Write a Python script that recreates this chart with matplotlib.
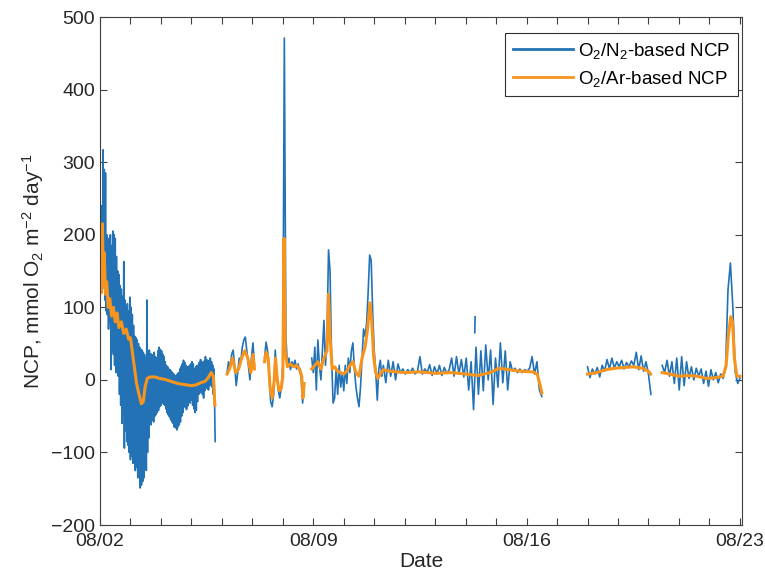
import numpy as np
import matplotlib
matplotlib.use("Agg")
import matplotlib.pyplot as plt
import matplotlib.dates as mdates
from datetime import datetime

nan = float("nan")

# ---------------- data (days after 08/02 00:00) ----------------
base_date = datetime(2019, 8, 2)

# O2/N2-based NCP : segments (start day, step in days, values)
n2_seg_a_start, n2_seg_a_step = 0.02, 0.02
n2_seg_a = [170, 120, 240, 125, 317, 130, 290, 110, 285, 95,
            200, 90, 195, 70, 190, 80, 200, 14, 185, 40,
            205, 35, 200, 20, 195, 10, 170, 15, 150, 5,
            145, -20, 130, -35, 125, -60, 115, -50, 163, -94,
            110, -70, 100, -85, 105, -90, 95, -100, 114, -110,
            100, -105, 90, -115, 75, -110, 60, -125, 58, -120,
            55, -135, 50, -130, 45, -149, 42, -145, 41, -140,
            38, -135, 35, -120, 30, -125, 110, -100, 40, -80,
            41, -60, 36, -62, 35, -55, 30, -58, 38, -50,
            32, -48, 30, -45, 40, -42, 45, -37, 42, -35,
            40, -30, 35, -33, 32, -35, 25, -40, 20, -45,
            18, -48, 15, -51, 14, -55, 12, -58, 10, -60,
            8, -65, 6, -66, 5, -69, 8, -65, 10, -62,
            15, -58, 18, -50, 22, -45, 27, -35, 24, -38,
            20, -41, 18, -36, 18, -30, 20, -32, 22, -28,
            25, -35, 22, -40, 15, -45, 18, -42, 20, -30,
            18, -20, 24, -18, 28, -15, 25, -20, 20, -25,
            26, -15, 32, -10, 28, -12, 25, -14, 27, -8,
            30, -5, 25, -10, 20, -20, 15, -30, -85]

n2_seg_b_start, n2_seg_b_step = 4.17, 0.05
n2_seg_b = [10, 25, 15, 35, 41, 20, -8, 10, 30, 25,
            45, 55, 59, 40, 20, 0, 30, 51, 20]

n2_seg_c_start, n2_seg_c_step = 5.40, 0.05
n2_seg_c = [30, 52, 40, 10, -30, -37, -20, 41, 10, -14,
            -25, -10, 20, 471, 60, 20, 30, 14, 25, 18,
            27, 15, 22, 12, 5, -32, -5]

n2_seg_d1_start, n2_seg_d1_step = 6.95, 0.05
n2_seg_d1 = [30, 10, 45, -14, 55, 20, 0, 40, 82, 20,
             60, 179, 150, 30, -32, -25, 15, -20, 20, -10,
             10, -15, 20, -5, 30, 10, 40, 51, 15, -10,
             -25, -37, -10, 30, 70, 60, 78, 120, 172, 165,
             92, 40, 10, -28, 15, 27, 5]

n2_seg_d2_start, n2_seg_d2_step = 9.30, 0.08
n2_seg_d2 = [20, -4, 27, 5, 25, 0, 22, 10, 15, 8,
             14, 10, 16, 8, 12, 32, 8, 15, 10, 21,
             6, 18, 8, 20, 6, 17, 9, 14, 30, 5,
             32, 8, 28, 4, 30, -14, 25, -41, 45, -20,
             40, -15, 48, 0, 41, -34, 30, -10, 51, -4,
             40, -14, 25, 12, 16, 10, 15, 10, 14, 12,
             16, 32, 8, 25, -14, -23]

n2_blip_days = [12.30, 12.31]
n2_blip_vals = [65, 87]

n2_seg_e_start, n2_seg_e_step = 16.00, 0.08
n2_seg_e = [18, 3, 15, 8, 17, 4, 20, 12, 28, 15,
            30, 16, 25, 18, 27, 15, 24, 18, 26, 20,
            38, 14, 33, 12, 25, 8, -20]

n2_seg_f_start, n2_seg_f_step = 18.45, 0.08
n2_seg_f = [20, 10, 27, 5, 25, -5, 30, -14, 32, -8,
            25, 2, 18, 0, 16, 5, 15, -5, 12, -9,
            14, 0, 10, -4, 8, 2, 15, 124, 161, 100,
            10, -5, 3]

# O2/Ar-based NCP : explicit (day, value) pairs, nan = gap
ar_days = [0.02, 0.05, 0.08, 0.11, 0.14, 0.18, 0.22, 0.27, 0.32, 0.38,
           0.44, 0.50, 0.56, 0.62, 0.70, 0.78, 0.86, 0.94, 1.00, 1.05,
           1.12, 1.20, 1.28, 1.36, 1.42, 1.48, 1.55, 1.65, 1.80, 1.95,
           2.10, 2.25, 2.40, 2.55, 2.70, 2.85, 3.00, 3.15, 3.30, 3.45,
           3.55, 3.65, 3.72, 3.77, 3.90,
           4.17, 4.25, 4.35, 4.45, 4.55, 4.65, 4.75, 4.85, 4.95, 5.02, 5.07, 5.20,
           5.40, 5.45, 5.52, 5.58, 5.65, 5.72, 5.76, 5.82, 5.88, 5.95,
           6.00, 6.04, 6.08, 6.15, 6.25, 6.35, 6.45, 6.55, 6.62, 6.66, 6.70, 6.85,
           6.95, 7.05, 7.15, 7.25, 7.35, 7.45, 7.50, 7.55, 7.62, 7.70,
           7.80, 7.90, 8.00, 8.10, 8.20, 8.30, 8.40, 8.50, 8.60, 8.70,
           8.78, 8.86, 8.92, 8.98, 9.05, 9.12, 9.20, 9.30, 9.50, 10.00,
           10.50, 11.00, 11.50, 12.00, 12.40, 12.80, 13.10, 13.40, 13.80, 14.20,
           14.35, 14.45, 14.50, 15.00,
           16.00, 16.30, 16.60, 16.90, 17.20, 17.50, 17.80, 18.00, 18.07, 18.30,
           18.45, 18.70, 19.00, 19.30, 19.60, 19.90, 20.20, 20.45, 20.55, 20.62,
           20.70, 20.76, 20.82, 20.90, 21.00]
ar_vals = [170, 120, 215, 130, 175, 118, 135, 100, 112, 88,
           100, 80, 92, 72, 80, 64, 70, 56, 58, 42,
           20, -5, -20, -33, -30, -10, 2, 4, 4, 2,
           1, -1, -3, -5, -6, -7, -8, -7, -4, -2,
           3, 10, 5, -35, nan,
           8, 15, 30, 10, 15, 30, 40, 30, 10, 35, 15, nan,
           25, 38, 30, -10, -25, 0, 30, 0, -15, -12,
           5, 195, 40, 18, 22, 18, 20, 15, 5, -25, -5, nan,
           15, 20, 25, 15, 30, 40, 118, 60, 15, 18,
           12, 10, 8, 12, 20, 25, 10, 5, 30, 45,
           70, 106, 80, 32, 10, 2, 8, 14, 12, 10,
           11, 9, 10, 8, 6, 10, 16, 14, 12, 11,
           8, -8, -18, nan,
           8, 10, 14, 16, 17, 18, 16, 12, 8, nan,
           10, 8, 5, 6, 5, 2, 3, 5, 20, 60,
           87, 80, 30, 5, 5]

# axis / tick text
x_tick_days = [0, 7, 14, 21]
y_ticks = [-200, -100, 0, 100, 200, 300, 400, 500]
label_n2 = "O$_2$/N$_2$-based NCP"
label_ar = "O$_2$/Ar-based NCP"
x_label = "Date"
y_label = "NCP, mmol O$_2$ m$^{-2}$ day$^{-1}$"

# ---------------- build series ----------------
def seg(start, step, vals):
    d = start + step * np.arange(len(vals))
    return d, np.asarray(vals, dtype=float)

d1 = seg(n2_seg_d1_start, n2_seg_d1_step, n2_seg_d1)
d2 = seg(n2_seg_d2_start, n2_seg_d2_step, n2_seg_d2)
pieces = [
    seg(n2_seg_a_start, n2_seg_a_step, n2_seg_a),
    seg(n2_seg_b_start, n2_seg_b_step, n2_seg_b),
    seg(n2_seg_c_start, n2_seg_c_step, n2_seg_c),
    (np.concatenate([d1[0], d2[0]]), np.concatenate([d1[1], d2[1]])),
    (np.array(n2_blip_days), np.array(n2_blip_vals, dtype=float)),
    seg(n2_seg_e_start, n2_seg_e_step, n2_seg_e),
    seg(n2_seg_f_start, n2_seg_f_step, n2_seg_f),
]
n2_d, n2_v = [], []
for d, v in pieces:
    n2_d.extend(d.tolist() + [d[-1] + 0.001])
    n2_v.extend(v.tolist() + [nan])
n2_d = np.array(n2_d)
n2_v = np.array(n2_v)

b0 = mdates.date2num(base_date)

# ---------------- plot ----------------
plt.rcParams['font.family'] = ['Liberation Sans', 'DejaVu Sans']
plt.rcParams['mathtext.default'] = 'regular'

fig = plt.figure(figsize=(7.65, 5.8), dpi=100)
ax = fig.add_axes([100 / 765, 1 - 525 / 580, 642 / 765, 508 / 580])

blue = '#2272b5'
orange = '#f7941d'
ax.plot(b0 + n2_d, n2_v, color=blue, lw=1.2, label=label_n2)
ax.plot(b0 + np.array(ar_days), np.array(ar_vals, dtype=float),
        color=orange, lw=2.2, label=label_ar)

ax.set_xlim(b0 + 0, b0 + 21.07)
ax.set_ylim(-200, 500)
ax.set_yticks(y_ticks)
ax.set_xticks([b0 + d for d in x_tick_days])
ax.xaxis.set_major_formatter(mdates.DateFormatter('%m/%d'))
ax.xaxis.set_minor_locator(mdates.DayLocator())

axcol = '#404040'
for s in ax.spines.values():
    s.set_color(axcol)
    s.set_linewidth(0.8)
ax.tick_params(which='both', direction='in', top=True, right=True,
               color=axcol, labelcolor='#262626', labelsize=14, width=0.8)
ax.tick_params(which='major', length=5)
ax.tick_params(which='minor', length=5)
ax.tick_params(axis='x', pad=6)

ax.set_xlabel(x_label, fontsize=15, color='#262626', labelpad=1)
ax.set_ylabel(y_label, fontsize=15, color='#262626', labelpad=4)

leg = ax.legend(loc='upper right', bbox_to_anchor=(0.9938, 0.9685),
                borderaxespad=0, fontsize=13.5, frameon=True, fancybox=False,
                edgecolor='#303030', framealpha=1, handlelength=3.2,
                handletextpad=0.3, labelspacing=0.45, borderpad=0.4)
leg.get_frame().set_linewidth(0.8)
for line in leg.get_lines():
    line.set_linewidth(2.0)

fig.savefig('out.png', dpi=100)
